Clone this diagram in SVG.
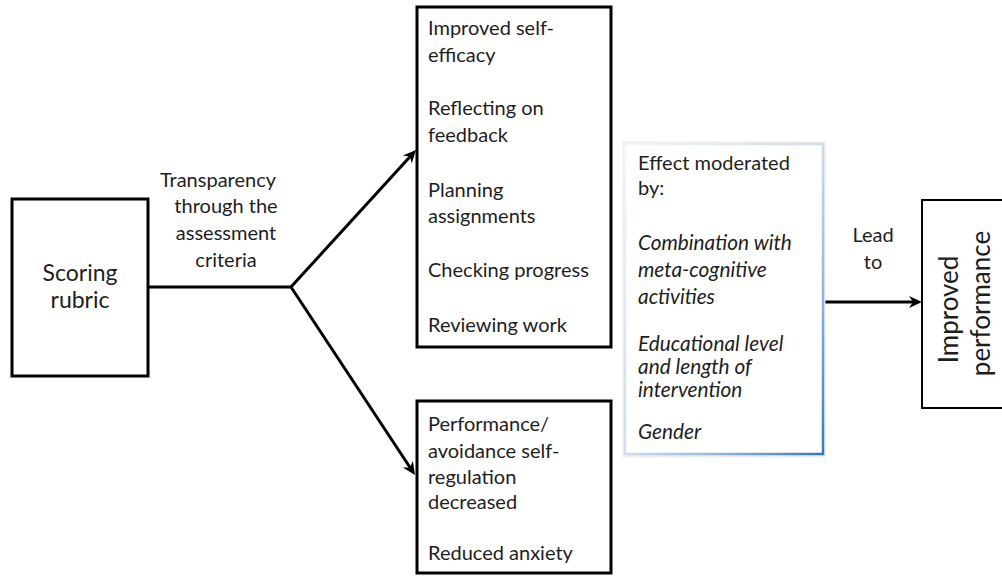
<svg xmlns="http://www.w3.org/2000/svg" width="1002" height="576" viewBox="0 0 1002 576">
  <defs>
    <style>
      .box { fill: #ffffff; stroke: #000000; stroke-width: 3; }
      .thin { stroke-width: 2; }
      .wire { fill: none; stroke: #000000; stroke-width: 3; }
      .t { font-family: Lato, "Open Sans", "Liberation Sans", sans-serif; font-size: 20px; fill: #1e1e1e; }
      .big { font-size: 23px; }
      .huge { font-size: 26px; }
      .it { font-style: italic; font-size: 20.8px; }
      .mid { text-anchor: middle; }
    </style>
    <marker id="head" markerUnits="userSpaceOnUse" markerWidth="14" markerHeight="14" viewBox="0 0 14 14" refX="7" refY="7" orient="auto">
      <path d="M0,1 L13,7 L0,13 L4,7 Z" fill="#000000"/>
    </marker>
    <linearGradient id="modEdge" x1="0" y1="0" x2="1" y2="1">
      <stop offset="0" stop-color="#f4f7fb"/>
      <stop offset="0.5" stop-color="#cfdcec"/>
      <stop offset="0.75" stop-color="#8fb3db"/>
      <stop offset="1" stop-color="#2e7bc4"/>
    </linearGradient>
  </defs>

  <rect width="1002" height="576" fill="#ffffff"/>

  <!-- connectors -->
  <g id="connectors">
    <line class="wire" x1="148" y1="287" x2="291" y2="287"/>
    <line class="wire" x1="291" y1="287" x2="412" y2="154.4" marker-end="url(#head)"/>
    <line class="wire" x1="291" y1="287" x2="411.7" y2="470" marker-end="url(#head)"/>
    <line class="wire" x1="825" y1="302" x2="916" y2="302" marker-end="url(#head)"/>
    <text class="t" x="218" y="187" text-anchor="middle">Transparency</text>
    <text class="t" x="226" y="213" text-anchor="middle">through the</text>
    <text class="t" x="226" y="240" text-anchor="middle">assessment</text>
    <text class="t" x="226" y="267" text-anchor="middle">criteria</text>
    <text class="t" x="873" y="242" text-anchor="middle">Lead</text>
    <text class="t" x="873" y="269" text-anchor="middle">to</text>
  </g>

  <!-- source -->
  <g id="scoring-rubric">
    <rect class="box" x="12" y="199" width="136" height="177"/>
    <text class="t big mid" x="80" y="281">Scoring</text>
    <text class="t big mid" x="80" y="308">rubric</text>
  </g>

  <!-- positive outcomes -->
  <g id="self-regulation">
    <rect class="box" x="417" y="7" width="194" height="340"/>
    <text class="t" x="428" y="35">Improved self-</text>
    <text class="t" x="428" y="62">efficacy</text>
    <text class="t" x="428" y="115">Reflecting on</text>
    <text class="t" x="428" y="142">feedback</text>
    <text class="t" x="428" y="197">Planning</text>
    <text class="t" x="428" y="223">assignments</text>
    <text class="t" x="428" y="277">Checking progress</text>
    <text class="t" x="428" y="332">Reviewing work</text>
  </g>

  <!-- reduced outcomes -->
  <g id="avoidance">
    <rect class="box" x="417" y="401" width="194" height="172"/>
    <text class="t" x="428" y="431">Performance/</text>
    <text class="t" x="428" y="458">avoidance self-</text>
    <text class="t" x="428" y="484">regulation</text>
    <text class="t" x="428" y="509">decreased</text>
    <text class="t" x="428" y="560">Reduced anxiety</text>
  </g>

  <!-- moderators -->
  <g id="moderators">
    <rect x="624" y="143" width="200" height="313" fill="none" stroke="#eeeeee" stroke-width="3"/>
    <rect x="625" y="144" width="198" height="310" fill="#ffffff" stroke="url(#modEdge)" stroke-width="2.5"/>
    <text class="t" x="638" y="170">Effect moderated</text>
    <text class="t" x="638" y="195">by:</text>
    <text class="t it" x="638" y="250">Combination with</text>
    <text class="t it" x="638" y="277">meta-cognitive</text>
    <text class="t it" x="638" y="304">activities</text>
    <text class="t it" x="638" y="351">Educational level</text>
    <text class="t it" x="638" y="374">and length of</text>
    <text class="t it" x="638" y="397">intervention</text>
    <text class="t it" x="638" y="439">Gender</text>
  </g>

  <!-- result -->
  <g id="improved-performance">
    <rect class="box thin" x="922" y="200" width="90" height="208"/>
    <text class="t huge mid" transform="translate(958,309.5) rotate(-90)">Improved</text>
    <text class="t huge mid" transform="translate(990,303.5) rotate(-90)">performance</text>
  </g>
</svg>
